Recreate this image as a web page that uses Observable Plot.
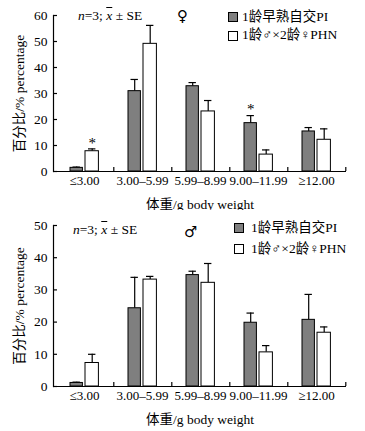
<!DOCTYPE html>
<html><head><meta charset="utf-8">
<script src="https://cdn.jsdelivr.net/npm/d3@7"></script>
<script src="https://cdn.jsdelivr.net/npm/@observablehq/plot@0.6"></script>
<style>
body{margin:0;background:#fff;}
.panel{position:relative;width:365px;overflow:hidden;}
.panel svg{display:block;}
.ov{position:absolute;font-family:"Liberation Serif","Noto Sans CJK SC",serif;font-size:13px;line-height:14px;white-space:nowrap;color:#000;}
.box{position:absolute;width:8px;height:8px;border:1px solid #000;}
</style></head><body>
<div id="top" class="panel"></div>
<div id="bot" class="panel"></div>
<script>
const categories = ["≤3.00", "3.00–5.99", "5.99–8.99", "9.00–11.99", "≥12.00"];
const seriesNames = ["1龄早熟自交PI", "1龄♂×2龄♀PHN"];
const seriesColors = ["#7f7f7f", "#ffffff"];
const xLabel = "体重/g body weight";
const yLabel = "百分比/% percentage";

const femaleInbred   = [1.4, 30.9, 32.8, 18.6, 15.4];
const femaleInbredSE = [0.3, 4.5, 1.4, 2.9, 1.5];
const femaleHybrid   = [7.8, 49.1, 23.1, 6.5, 12.2];
const femaleHybridSE = [0.9, 7.1, 4.2, 1.8, 4.2];
const femaleInbredSig = ["", "", "", "*", ""];
const femaleHybridSig = ["*", "", "", "", ""];
const femaleTicks = [0, 10, 20, 30, 40, 50, 60];

const maleInbred   = [1.1, 24.3, 34.6, 19.8, 20.7];
const maleInbredSE = [0.25, 9.6, 1.2, 3.0, 7.9];
const maleHybrid   = [7.3, 33.2, 32.2, 10.6, 16.7];
const maleHybridSE = [2.7, 1.0, 6.0, 2.1, 1.8];
const maleInbredSig = ["", "", "", "", ""];
const maleHybridSig = ["", "", "", "", ""];
const maleTicks = [0, 10, 20, 30, 40, 50];

const W = 365, ML = 53, MR = 19, MT = 15;
const BW = (W - ML - MR) / categories.length;

function chart(o) {
  const rows = s => categories.map((c, i) => ({cat: c, v: o.vals[s][i], se: o.ses[s][i], sig: o.sigs[s][i]}));
  const g = rows(0), w = rows(1);
  const innerH = o.height - MT - o.marginBottom;
  const gl = 15, gr = 28, wl = 30, wr = 44;
  const gc = (gl + gr) / 2, wc = (wl + wr) / 2;
  const cap = 4;
  const marks = [];
  [[g, gl, gr, gc, seriesColors[0]], [w, wl, wr, wc, seriesColors[1]]].forEach(([d, l, r, c, col]) => {
    marks.push(Plot.ruleX(d, {x: "cat", y1: "v", y2: dd => dd.v + dd.se, dx: c - BW / 2, stroke: "#000", strokeWidth: 1.2}));
    marks.push(Plot.tickY(d, {x: "cat", y: dd => dd.v + dd.se, insetLeft: c - cap, insetRight: BW - c - cap, stroke: "#000", strokeWidth: 1.2}));
    marks.push(Plot.barY(d, {x: "cat", y: "v", fill: col, stroke: "#000", strokeWidth: 1, insetLeft: l, insetRight: BW - r}));
    marks.push(Plot.text(d.filter(dd => dd.sig), {x: "cat", y: dd => dd.v + dd.se, text: "sig", dx: c - BW / 2, dy: -6, fontSize: 15, fontFamily: "Liberation Serif"}));
  });
  return Plot.plot({
    width: W, height: o.height, marginLeft: ML, marginRight: MR, marginTop: MT, marginBottom: o.marginBottom,
    style: {fontFamily: "'Liberation Serif','Noto Sans CJK SC',serif", fontSize: "13px", color: "#000", background: "#fff"},
    x: {domain: categories, padding: 0},
    y: {domain: [0, o.ticks[o.ticks.length - 1]]},
    marks: [
      ...marks,
      Plot.ruleY([0], {stroke: "#000", strokeWidth: 1.2}),
      Plot.frame({anchor: "left", stroke: "#000", strokeWidth: 1.2}),
      Plot.tickY(o.ticks, {y: d => d, insetRight: (W - ML - MR) - 4, stroke: "#000", strokeWidth: 1.2}),
      Plot.tickX(categories, {x: d => d, dx: BW / 2, insetTop: innerH - 4, stroke: "#000", strokeWidth: 1.2}),
      Plot.axisY({ticks: o.ticks, tickSize: 0, tickPadding: 6, fontSize: 13.5, label: yLabel, labelAnchor: "center", labelArrow: "none", labelOffset: 39}),
      Plot.axisX({tickSize: 0, tickPadding: 4, fontSize: 13, label: null}),
      Plot.axisX({ticks: [], tickSize: 0, fontSize: 13.5, label: xLabel, labelAnchor: "center", labelArrow: "none", labelOffset: 37})
    ]
  });
}

function overlay(el, o) {
  const add = (html, cls, style) => {
    const d = document.createElement("div");
    d.className = cls; d.innerHTML = html; Object.assign(d.style, style); el.appendChild(d);
  };
  seriesNames.forEach((n, i) => {
    add("", "box", {left: o.boxX + "px", top: o.rowY[i] - 4.5 + "px", background: seriesColors[i]});
    add(n, "ov", {left: o.textX + "px", top: o.rowY[i] - 7 + "px", fontSize: "13.5px"});
  });
  add('<i>n</i>=3; <i style="text-decoration:overline">x</i> ± SE', "ov", {left: o.annX + "px", top: o.annY - 7 + "px", fontSize: "13.5px"});
  add(o.sym, "ov", {left: o.symX + "px", top: o.symY - 7 + "px", fontSize: "15px", fontFamily: "DejaVu Sans"});
}

const topEl = document.getElementById("top");
topEl.appendChild(chart({vals: [femaleInbred, femaleHybrid], ses: [femaleInbredSE, femaleHybridSE], sigs: [femaleInbredSig, femaleHybridSig], ticks: femaleTicks, height: 210, marginBottom: 39}));
overlay(topEl, {boxX: 228, textX: 242, rowY: [16.5, 35], annX: 78, annY: 16, sym: "♀", symX: 177, symY: 16});

const botEl = document.getElementById("bot");
botEl.appendChild(chart({vals: [maleInbred, maleHybrid], ses: [maleInbredSE, maleHybridSE], sigs: [maleInbredSig, maleHybridSig], ticks: maleTicks, height: 221, marginBottom: 45}));
overlay(botEl, {boxX: 234, textX: 251, rowY: [17.5, 38.5], annX: 73, annY: 20, sym: "♂", symX: 184, symY: 22});
</script>
</body></html>
